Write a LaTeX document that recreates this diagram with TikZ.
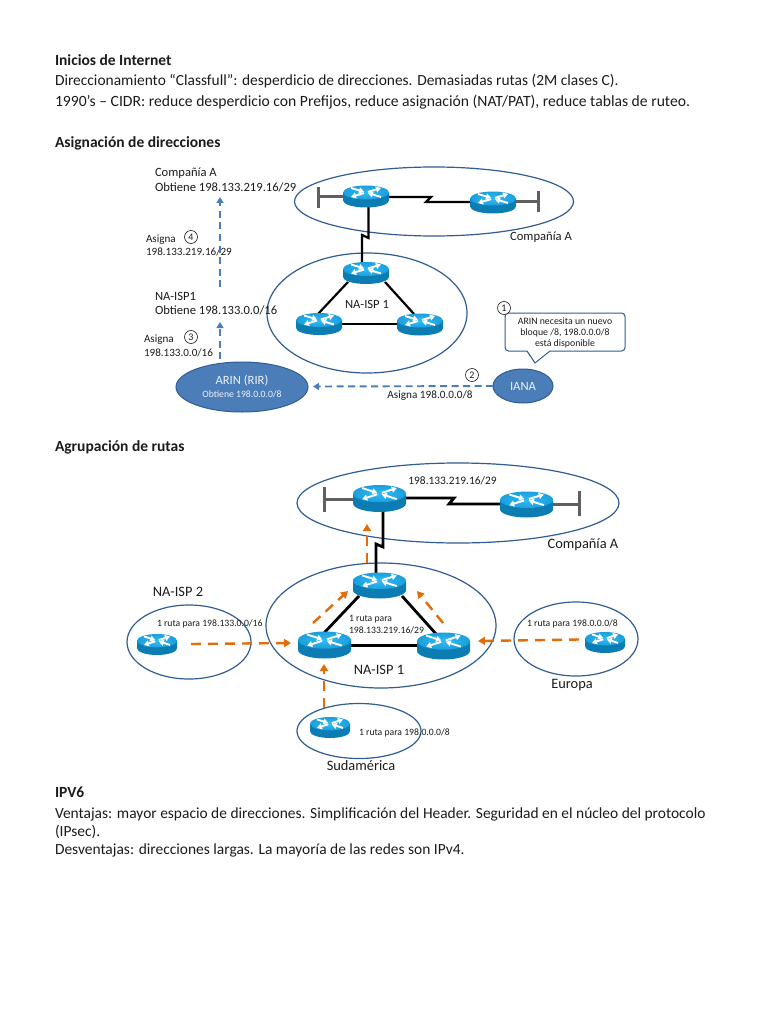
\documentclass[tikz,border=0pt]{standalone}
\usepackage{fontspec}
\setmainfont{Carlito}
\usetikzlibrary{shapes.geometric,arrows.meta}
\definecolor{ink}{HTML}{1C1C1C}
\definecolor{ringc}{HTML}{2F5D94}
\definecolor{blobc}{HTML}{4B7DB8}
\definecolor{dashb}{HTML}{4A7EBB}
\definecolor{oran}{HTML}{E36C0A}
\definecolor{rtop}{HTML}{1C9FDC}
\definecolor{rtopin}{HTML}{2FBBF5}
\definecolor{rside}{HTML}{0B7DB2}
\definecolor{barc}{HTML}{5F5F5F}
\newcommand{\fs}[1]{\fontsize{#1}{#1}\selectfont}
\tikzset{
  x=1pt,y=-1pt,
  every node/.style={text=ink,inner sep=0pt,outer sep=0pt},
  ring/.style={ellipse,draw=ringc,line width=1.2pt,inner sep=0pt},
  blob/.style={ellipse,draw=ringc,line width=1pt,fill=blobc,inner sep=0pt},
  body/.style={anchor=west,font=\fs{15.45}},
  bodywide/.style={anchor=west,font=\fs{15.65}},
  head/.style={anchor=west,font=\fs{15.5}\bfseries},
  lab/.style={anchor=west,font=\fs{12.6}},
  small/.style={anchor=west,font=\fs{11.1}},
  tiny/.style={anchor=west,font=\fs{9.7}},
  clab/.style={font=\fs{14.4}},
  num/.style={circle,draw=ink,line width=.6pt,minimum size=13pt,font=\fs{10}},
  wire/.style={draw=black,line width=2.2pt},
  wirebig/.style={draw=black,line width=2.8pt},
  stubline/.style={draw=barc,line width=3pt},
  bluearrow/.style={draw=dashb,line width=1.9pt,dash pattern=on 7pt off 4.5pt,-{Triangle[length=6pt,width=7pt]}},
  orangearrow/.style={draw=oran,line width=2.4pt,dash pattern=on 10pt off 7pt,-{Triangle[length=7pt,width=8pt]}},
}
\newcommand{\rtr}[5]{% name, cx, cy, w, h
  \node[minimum width=#4pt,minimum height=#5pt] (#1) at (#2,#3) {};
  \begin{scope}[shift={(#2,#3)},xscale=#4/46,yscale=#5/22]
    \fill[rside] (-23,-4) -- (-23,4) arc[start angle=180,end angle=0,x radius=23,y radius=7] -- (23,-4) -- cycle;
    \shade[inner color=rtopin,outer color=rtop] (0,-4) ellipse[x radius=23,y radius=7];
    \begin{scope}[draw=white,fill=white,line width=1.9pt]
      \draw[-{Triangle[length=5pt,width=6pt]}] (-15,-8.5) -- (-2,-4.6);
      \draw[-{Triangle[length=5pt,width=6pt]}] (15,.5) -- (2,-3.4);
      \draw[-{Triangle[length=5pt,width=6pt]}] (2,-4.6) -- (15,-8.5);
      \draw[-{Triangle[length=5pt,width=6pt]}] (-2,-3.4) -- (-15,.5);
    \end{scope}
  \end{scope}
}
\begin{document}
\begin{tikzpicture}
\useasboundingbox (0,0) rectangle (768,1024);
\fill[white] (0,0) rectangle (768,1024);
% --- page text
\node[head] (t1) at (55,60.5) {Inicios de Internet};
\node[body] (b1) at (55,81.5) {Direccionamiento “Classfull”: desperdicio de direcciones. Demasiadas rutas (2M clases C).};
\node[bodywide] (b2) at (55,102.5) {1990’s – CIDR: reduce desperdicio con Prefijos, reduce asignación (NAT/PAT), reduce tablas de ruteo.};
\node[head] (t2) at (55,143.5) {Asignación de direcciones};
\node[head] (t3) at (55,447.5) {Agrupación de rutas};
\node[head] (t4) at (55,792.5) {IPV6};
\node[body] (b3) at (55,814.5) {Ventajas: mayor espacio de direcciones. Simplificación del Header. Seguridad en el núcleo del protocolo};
\node[body] (b4) at (55,832) {(IPsec).};
\node[body] (b5) at (55,850) {Desventajas: direcciones largas. La mayoría de las redes son IPv4.};
% --- diagram 1
\node[ring,minimum width=279pt,minimum height=69pt] (ca) at (434,201.5) {};
\node[ring,minimum width=200pt,minimum height=120pt] (isp) at (367,313) {};
\coordinate (s1a) at (318,197); \coordinate (s1t) at (318,187); \coordinate (s1b) at (318,208);
\coordinate (s2a) at (538,202); \coordinate (s2t) at (538,191); \coordinate (s2b) at (538,212);
\draw[stubline] (s1t) -- (s1b); \draw[stubline] (s2t) -- (s2b);
\coordinate (z1) at (431,197); \coordinate (z2) at (426,202);
\coordinate (d1) at (368.5,205); \coordinate (d2) at (368.5,238); \coordinate (d3) at (362,235); \coordinate (d4) at (362,265);
\coordinate (l1) at (348,282); \coordinate (l2) at (318,314);
\coordinate (l3) at (385,282); \coordinate (l4) at (414,314);
\coordinate (l5) at (330,324); \coordinate (l6) at (410,324);
\coordinate (w1) at (380,197); \coordinate (w2) at (480,202);
\draw[wire] (w1) -- (z1) -- (z2) -- (w2);
\draw[wire] (d1) -- (d2) -- (d3) -- (d4);
\draw[wire] (l1) -- (l2); \draw[wire] (l3) -- (l4); \draw[wire] (l5) -- (l6);
\draw[stubline] (s1a) -- (350,197); \draw[stubline] (s2a) -- (510,202);
\rtr{ra}{366}{196.5}{46}{22}
\rtr{rb}{493}{202.5}{46}{22}
\rtr{rc}{366}{273}{46}{22}
\rtr{rd}{319}{324}{46}{22}
\rtr{re}{420}{324.5}{46}{22}
\node[font=\fs{12.6}] (n1) at (367,304) {NA-ISP 1};
\node[font=\fs{12.6}] (n2) at (541,237) {Compañía A};
\node[lab] (a1) at (155,173) {Compañía A};
\node[lab] (a2) at (155,187) {Obtiene 198.133.219.16/29};
\node[small] (a3) at (146,239.5) {Asigna};
\node[small] (a4) at (146,252) {198.133.219.16/29};
\node[num] (c4) at (191,237) {4};
\node[lab] (a5) at (155,296) {NA-ISP1};
\node[lab] (a6) at (155,310) {Obtiene 198.133.0.0/16};
\node[small] (a7) at (144,340) {Asigna};
\node[small] (a8) at (144,353) {198.133.0.0/16};
\node[num] (c3) at (191,337) {3};
\coordinate (u1) at (220,287); \coordinate (u2) at (220,197);
\coordinate (u3) at (220,359); \coordinate (u4) at (220,322);
\draw[bluearrow] (u1) -- (u2);
\draw[bluearrow] (u3) -- (u4);
\node[blob,minimum width=132pt,minimum height=50pt] (arin) at (242,387) {};
\node[font=\fs{12.6},text=white!90!blobc] (ar1) at (242,381) {ARIN (RIR)};
\node[font=\fs{9.7},text=white!90!blobc] (ar2) at (242,394) {Obtiene 198.0.0.0/8};
\node[blob,minimum width=60pt,minimum height=34pt,font=\fs{12.6},text=white!90!blobc] (iana) at (523,386) {IANA};
\coordinate (h1) at (313,386.5);
\draw[bluearrow] (iana.west) -- (h1);
\node[num] (c2) at (472,375) {2};
\node[font=\fs{11.2}] (as) at (430,395.5) {Asigna 198.0.0.0/8};
\coordinate (cbtip) at (535,363);
\draw[draw=ringc,line width=1pt,fill=white,rounded corners=3.5pt]
  (527,351) -- (505,351) -- (505,313) -- (625,313) -- (625,351) -- (550,351);
\draw[draw=ringc,line width=1pt] (550,351) -- (cbtip) -- (527,351);
\node[num,fill=white] (c1) at (504,308) {1};
\node[font=\fs{9.8}] (q1) at (565,321) {ARIN necesita un nuevo};
\node[font=\fs{9.8}] (q2) at (565,332.5) {bloque /8, 198.0.0.0/8};
\node[font=\fs{9.8}] (q3) at (565,344) {está disponible};
% --- diagram 2
\node[ring,minimum width=322pt,minimum height=80pt] (cb) at (458,503) {};
\node[ring,minimum width=230pt,minimum height=125pt] (ispb) at (381,625.5) {};
\node[ring,minimum width=124pt,minimum height=74pt] (isp2) at (189,642) {};
\node[ring,minimum width=124pt,minimum height=74pt] (eur) at (576,639) {};
\node[ring,minimum width=124pt,minimum height=55pt] (sud) at (359,731) {};
\coordinate (p1a) at (324,499); \coordinate (p1t) at (324,487); \coordinate (p1b) at (324,512);
\coordinate (p2a) at (579,504); \coordinate (p2t) at (579,491); \coordinate (p2b) at (579,516);
\draw[stubline] (p1t) -- (p1b); \draw[stubline] (p2t) -- (p2b);
\draw[stubline] (p1a) -- (360,499); \draw[stubline] (p2a) -- (540,504);
\coordinate (y1) at (395,498); \coordinate (y2) at (454,498); \coordinate (y3) at (449,504); \coordinate (y4) at (510,504);
\draw[wirebig] (y1) -- (y2) -- (y3) -- (y4);
\coordinate (e1) at (383,505); \coordinate (e2) at (383,547); \coordinate (e3) at (376,544); \coordinate (e4) at (376,578);
\draw[wirebig] (e1) -- (e2) -- (e3) -- (e4);
\coordinate (k1) at (359,596); \coordinate (k2) at (324,633);
\coordinate (k3) at (402,596); \coordinate (k4) at (437,635);
\coordinate (k5) at (335,645.5); \coordinate (k6) at (430,645.5);
\draw[wirebig] (k1) -- (k2); \draw[wirebig] (k3) -- (k4); \draw[wirebig] (k5) -- (k6);
\rtr{ma}{379.5}{498.5}{53}{27}
\rtr{mb}{526.5}{504.5}{53}{26}
\rtr{mc}{379.5}{585.5}{53}{26}
\rtr{md}{324.5}{645}{53}{27}
\rtr{me}{443.5}{646}{53}{27}
\rtr{mf}{157}{644.5}{40}{21}
\rtr{mg}{605}{642.5}{40}{21}
\rtr{mh}{330}{727.5}{40}{21}
\coordinate (o1) at (367,563); \coordinate (o2) at (367,524);
\coordinate (o3) at (313,623); \coordinate (o4) at (348,591);
\coordinate (o5) at (443,623); \coordinate (o6) at (417,591);
\coordinate (o7) at (191,644); \coordinate (o8) at (291,643);
\coordinate (o9) at (579,639.5); \coordinate (o10) at (478,641);
\coordinate (o11) at (324,708); \coordinate (o12) at (324,664);
\draw[orangearrow] (o1) -- (o2);
\draw[orangearrow] (o3) -- (o4);
\draw[orangearrow] (o5) -- (o6);
\draw[orangearrow] (o7) -- (o8);
\draw[orangearrow] (o9) -- (o10);
\draw[orangearrow] (o11) -- (o12);
\node[font=\fs{11.4}] (f1) at (452.5,480.5) {198.133.219.16/29};
\node[clab] (f2) at (583,544.5) {Compañía A};
\node[clab] (f3) at (178,591.5) {NA-ISP 2};
\node[tiny] (f4) at (157,623.5) {1 ruta para 198.133.0.0/16};
\node[tiny] (f5) at (349,619.5) {1 ruta para};
\node[tiny] (f6) at (349,630.5) {198.133.219.16/29};
\node[clab] (f7) at (379,669.5) {NA-ISP 1};
\node[tiny] (f8) at (527,624) {1 ruta para 198.0.0.0/8};
\node[clab] (f9) at (572,685) {Europa};
\node[tiny] (f10) at (359,733) {1 ruta para 198.0.0.0/8};
\node[clab] (f11) at (361,765.5) {Sudamérica};
\end{tikzpicture}
\end{document}
